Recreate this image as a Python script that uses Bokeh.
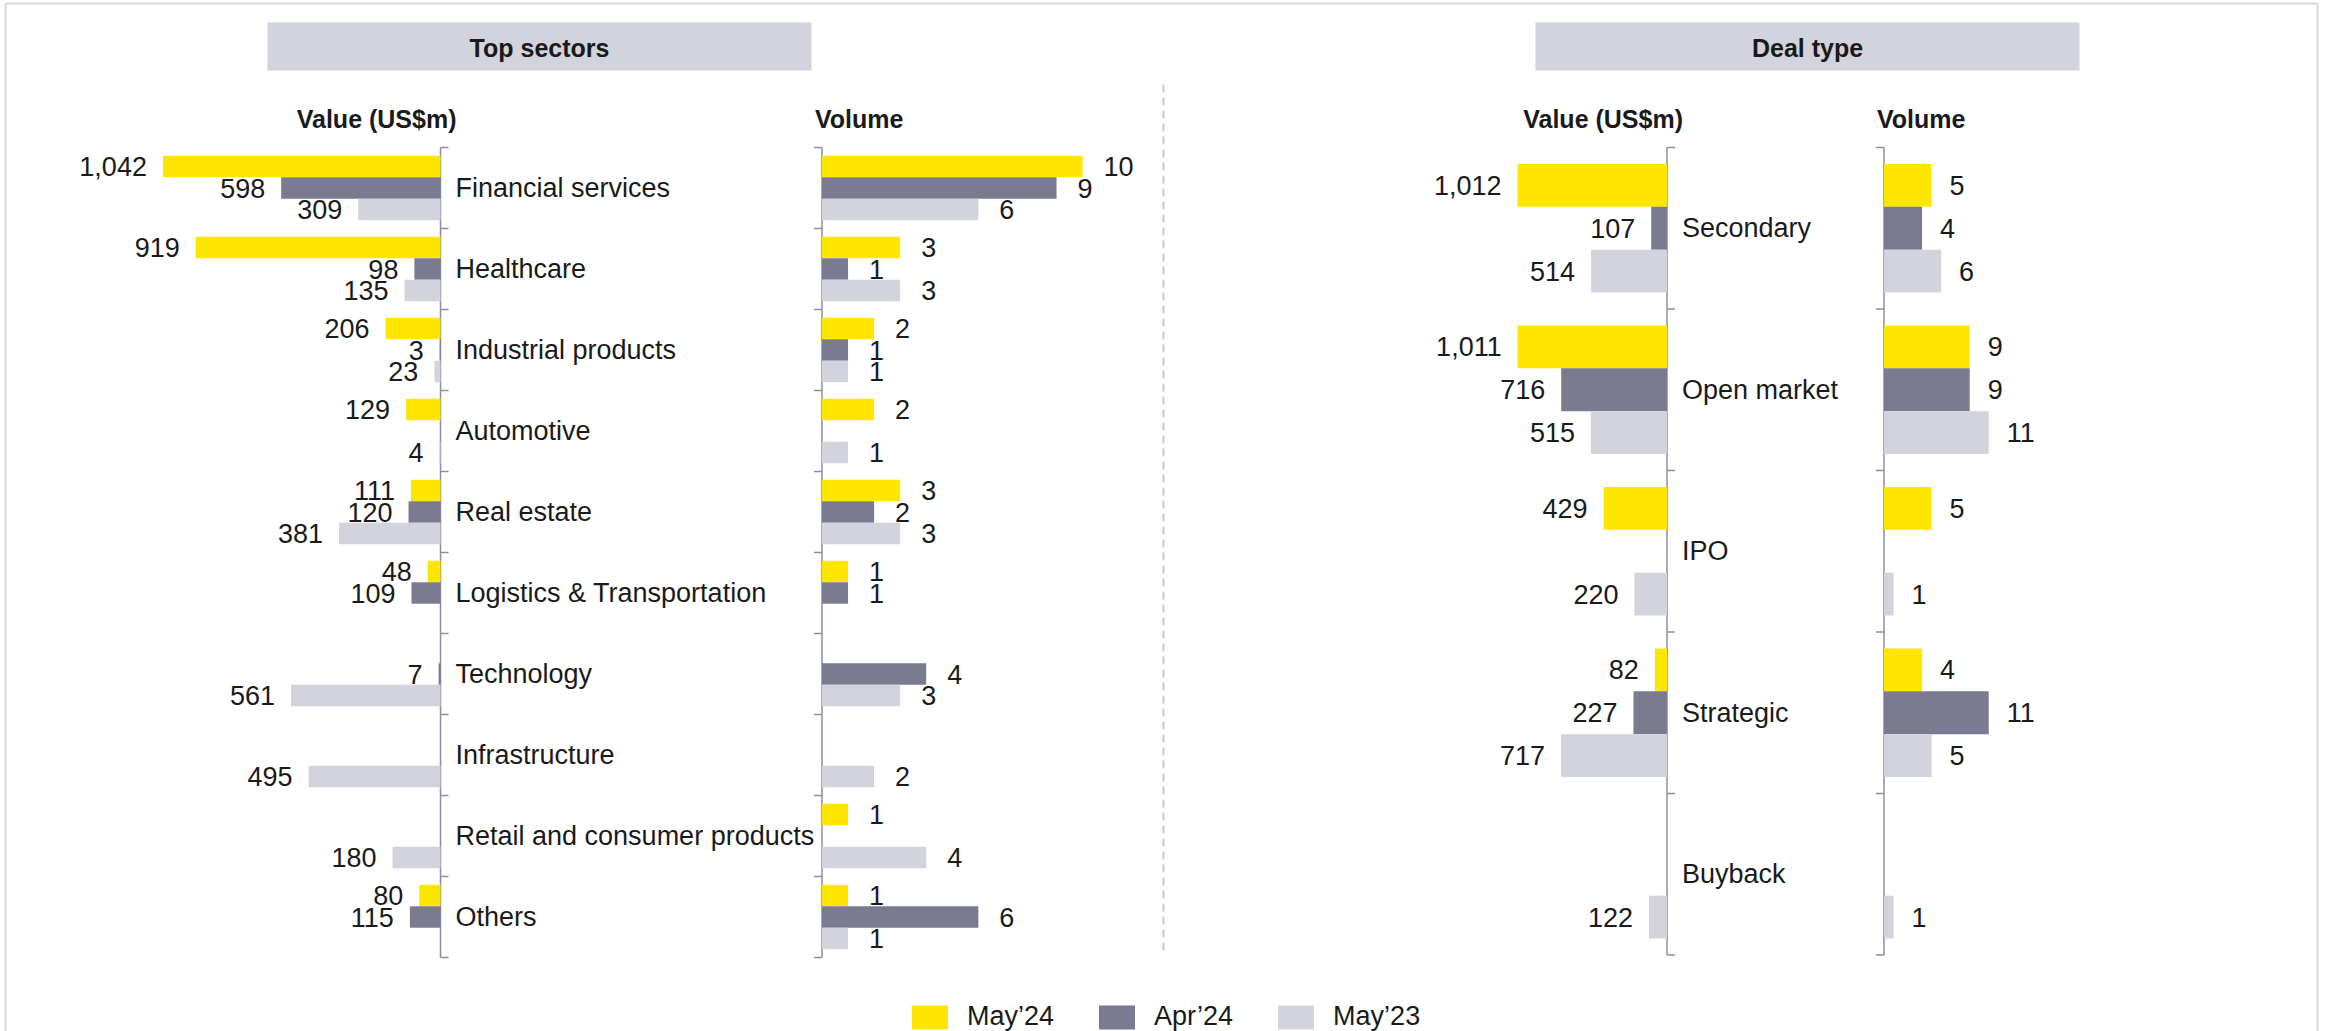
import numpy as np
from bokeh.plotting import figure
from bokeh.models import Range1d, ColumnDataSource, Legend, LegendItem
from bokeh.core.properties import value
from bokeh.embed import file_html
from bokeh.resources import INLINE

# ---------------- data ----------------
nan = float("nan")
series_names = ["May\u201924", "Apr\u201924", "May\u201923"]

sectors = ["Financial services", "Healthcare", "Industrial products", "Automotive",
           "Real estate", "Logistics & Transportation", "Technology", "Infrastructure",
           "Retail and consumer products", "Others"]
sector_value_may24 = [1042, 919, 206, 129, 111, 48, nan, nan, nan, 80]
sector_value_apr24 = [598, 98, 3, nan, 120, 109, 7, nan, nan, 115]
sector_value_may23 = [309, 135, 23, 4, 381, nan, 561, 495, 180, nan]
sector_volume_may24 = [10, 3, 2, 2, 3, 1, nan, nan, 1, 1]
sector_volume_apr24 = [9, 1, 1, nan, 2, 1, 4, nan, nan, 6]
sector_volume_may23 = [6, 3, 1, 1, 3, nan, 3, 2, 4, 1]

deal_types = ["Secondary", "Open market", "IPO", "Strategic", "Buyback"]
deal_value_may24 = [1012, 1011, 429, 82, nan]
deal_value_apr24 = [107, 716, nan, 227, nan]
deal_value_may23 = [514, 515, 220, 717, 122]
deal_volume_may24 = [5, 9, 5, 4, nan]
deal_volume_apr24 = [4, 9, nan, 11, nan]
deal_volume_may23 = [6, 11, 1, 5, 1]

# ---------------- styling / layout ----------------
W, H = 2328, 1031
FONT = "Liberation Sans"
TXT = "#1a1a1a"
COLORS = ["#FFE600", "#7A7A91", "#D2D3DC"]
BOX = "#D2D3DC"
AXIS_COL = "#8C8CA2"
FS = "27px"
HFS = "25px"
BAR_H = 0.265
TICK = 8

TOP = 147
BOT1, BOT2 = 957, 954.5
AX_VAL1, PPU_VAL1 = 440, 0.2664
AX_VOL1, PPU_VOL1 = 821.5, 26.06
AX_VAL2, PPU_VAL2 = 1666.5, 0.1477
AX_VOL2, PPU_VOL2 = 1883.5, 9.52


def x_rng(ax, ppu, direction):
    return Range1d(start=direction * (0 - ax) / ppu, end=direction * (W - ax) / ppu)


def y_rng(top, bot, n):
    m = n / (bot - top)
    return Range1d(start=(H - top) * m, end=(0 - top) * m)


p = figure(width=W, height=H, x_range=Range1d(0, W), y_range=Range1d(H, 0),
           x_axis_type=None, y_axis_type=None, output_backend="svg",
           toolbar_location=None, min_border=0)
p.grid.visible = False
p.outline_line_color = None
p.background_fill_color = "white"
p.border_fill_color = "white"

p.extra_x_ranges = {
    "val1": x_rng(AX_VAL1, PPU_VAL1, -1),
    "vol1": x_rng(AX_VOL1, PPU_VOL1, 1),
    "val2": x_rng(AX_VAL2, PPU_VAL2, -1),
    "vol2": x_rng(AX_VOL2, PPU_VOL2, 1),
}
p.extra_y_ranges = {
    "cat1": y_rng(TOP, BOT1, len(sectors)),
    "cat2": y_rng(TOP, BOT2, len(deal_types)),
}

# outer frame (top, left, right)
p.segment(x0=[5, 5, 2317], y0=[3, 3, 3], x1=[2317, 5, 2317], y1=[3, H, H],
          line_color="#D9D9E1", line_width=2)

# dashed separator
p.segment(x0=1163, y0=84, x1=1163, y1=953, line_color="#C9C9D1", line_width=2,
          line_dash="8 5")

text_kw = dict(text_font=value(FONT), text_color=TXT, text_baseline="middle")


def panel(cats, vals, vols, xv, xo, yc, ppu_v, ppu_o, title, box_l, box_r,
          ax_v_px, ax_o_px, vol_off):
    n = len(cats)
    centers = np.arange(n) + 0.5
    # title box + header texts
    p.quad(left=box_l, right=box_r, top=22, bottom=70, fill_color=BOX, line_color=None)
    p.text(x=[(box_l + box_r) / 2], y=[47], text=[title], text_align="center",
           text_font_size=HFS, text_font_style="bold", **text_kw)
    p.text(x=[ax_v_px + 16], y=[118], text=["Value (US$m)"], text_align="right",
           text_font_size=HFS, text_font_style="bold", **text_kw)
    p.text(x=[ax_o_px - 7], y=[118], text=["Volume"], text_align="left",
           text_font_size=HFS, text_font_style="bold", **text_kw)
    # axes with ticks at category boundaries
    bounds = np.arange(n + 1)
    for rng, ppu in ((xv, ppu_v), (xo, ppu_o)):
        p.segment(x0=0, y0=0, x1=0, y1=n, x_range_name=rng, y_range_name=yc,
                  line_color=AXIS_COL, line_width=1.5)
        p.segment(x0=np.zeros(n + 1), y0=bounds, x1=np.full(n + 1, -TICK / ppu), y1=bounds,
                  x_range_name=rng, y_range_name=yc, line_color=AXIS_COL, line_width=1.5)
    # category labels
    p.text(x=np.zeros(n), y=centers, text=cats, x_offset=15, text_align="left",
           text_font_size=FS, x_range_name=xv, y_range_name=yc, **text_kw)
    rends = []
    for k in range(3):
        ys = centers + (k - 1) * BAR_H
        for arr, rng, is_val in ((vals[k], xv, True), (vols[k], xo, False)):
            a = np.array(arr, dtype=float)
            m = np.isfinite(a)
            src = ColumnDataSource(dict(y=ys[m], v=a[m],
                                        lab=[f"{int(x):,}" for x in a[m]]))
            r = p.hbar(y="y", left=0, right="v", height=BAR_H, source=src,
                       x_range_name=rng, y_range_name=yc,
                       fill_color=COLORS[k], line_color=None)
            if is_val:
                rends.append(r)
                p.text(x="v", y="y", text="lab", source=src, x_offset=-16,
                       text_align="right", text_font_size=FS,
                       x_range_name=rng, y_range_name=yc, **text_kw)
            else:
                p.text(x="v", y="y", text="lab", source=src, x_offset=vol_off,
                       text_align="left", text_font_size=FS,
                       x_range_name=rng, y_range_name=yc, **text_kw)
    return rends


r1 = panel(sectors,
           [sector_value_may24, sector_value_apr24, sector_value_may23],
           [sector_volume_may24, sector_volume_apr24, sector_volume_may23],
           "val1", "vol1", "cat1", PPU_VAL1, PPU_VOL1, "Top sectors", 267, 811,
           AX_VAL1, AX_VOL1, 21)
r2 = panel(deal_types,
           [deal_value_may24, deal_value_apr24, deal_value_may23],
           [deal_volume_may24, deal_volume_apr24, deal_volume_may23],
           "val2", "vol2", "cat2", PPU_VAL2, PPU_VOL2, "Deal type", 1535, 2079,
           AX_VAL2, AX_VOL2, 18)

legend = Legend(items=[LegendItem(label=series_names[k], renderers=[r1[k]]) for k in range(3)],
                orientation="horizontal", location=(907, -1),
                glyph_width=45, glyph_height=30, label_standoff=15, spacing=40,
                padding=0, margin=0, border_line_color=None, background_fill_alpha=0,
                label_text_font=FONT, label_text_font_size=FS, label_text_color=TXT)
p.add_layout(legend)

open("out.html", "w").write(file_html(p, INLINE))
